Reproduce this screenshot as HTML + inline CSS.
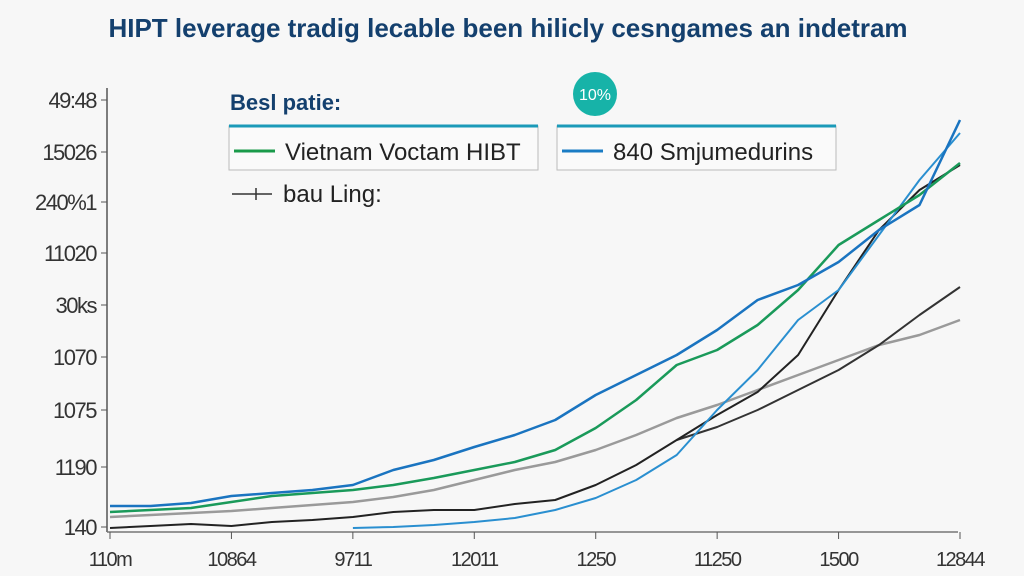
<!DOCTYPE html>
<html><head><meta charset="utf-8"><style>
body{margin:0;background:#f7f7f7;font-family:"Liberation Sans",sans-serif}
svg{display:block}
</style></head><body>
<svg width="1024" height="576" viewBox="0 0 1024 576">
<rect width="1024" height="576" fill="#f7f7f7"/>
<text x="508" y="37" text-anchor="middle" font-size="26" font-weight="bold" fill="#14406e">HIPT leverage tradig lecable been hilicly cesngames an indetram</text>
<g id="axes"></g>
<g id="series"></g>
<text x="230" y="110" font-size="22" font-weight="bold" fill="#14406e">Besl patie:</text>
<circle cx="595" cy="94" r="22" fill="#17b3a8"/>
<text x="595" y="100" text-anchor="middle" font-size="16" fill="#fff">10%</text>
<g>
<rect x="229" y="126" width="309" height="44" fill="#fafafa" stroke="#bbb" stroke-width="1"/>
<line x1="229" y1="126" x2="538" y2="126" stroke="#1b9ab8" stroke-width="3"/>
<line x1="234" y1="151" x2="275" y2="151" stroke="#1a9a4a" stroke-width="3"/>
<text x="285" y="160" font-size="24" fill="#222">Vietnam Voctam HIBT</text></g>
<g>
<rect x="557" y="126" width="279" height="44" fill="#fafafa" stroke="#bbb" stroke-width="1"/>
<line x1="557" y1="126" x2="836" y2="126" stroke="#1b9ab8" stroke-width="3"/>
<line x1="562" y1="151" x2="603" y2="151" stroke="#1a7cc4" stroke-width="3"/>
<text x="613" y="160" font-size="24" fill="#222">840 Smjumedurins</text></g>
<g>
<line x1="232" y1="194" x2="272" y2="194" stroke="#333" stroke-width="1.5"/>
<line x1="256" y1="188" x2="256" y2="200" stroke="#333" stroke-width="1.5"/>
<text x="283" y="202" font-size="24" fill="#222">bau Ling:</text></g>
</svg>
<script>
const categories=[0,1,2,3,4,5,6,7,8,9,10,11,12,13,14,15,16,17,18,19,20,21];
const blueDark=[26,26,29,36,39,42,47,62,72,85,97,112,137,157,177,202,232,247,270,302,327,412];
const green=[20,22,24,30,36,39,42,47,54,62,70,82,104,132,167,182,207,242,287,312,337,369];
const gray=[15,17,19,21,24,27,30,35,42,52,62,70,82,97,114,127,142,157,172,187,197,212];
const black1=[4,6,8,6,10,12,15,20,22,22,28,32,47,67,92,117,140,177,242,302,342,367];
const lightBlue=[null,null,null,null,null,null,4,5,7,10,14,22,34,52,77,122,162,212,242,297,352,399];
const black2=[null,null,null,null,null,null,null,null,null,null,null,null,null,null,92,105,122,142,162,187,217,245];
const yTicks=[5,65,122,175,227,279,330,380,432];
const yLabels=["140","1190","1075","1070","30ks","11020","240%1","15026","49:48"];
const xTicks=[0,3,6,9,12,15,18,21];
const xLabels=["110m","10864","9711","12011","1250","11250","1500","12844"];
const NS="http://www.w3.org/2000/svg";
const x=i=>110+i*(850/21), y=v=>532-v;
const axes=document.getElementById('axes'), ser=document.getElementById('series');
function mk(t,a,p){const e=document.createElementNS(NS,t);for(const k in a)e.setAttribute(k,a[k]);p.appendChild(e);return e;}
const ya=mk('line',{x1:107,y1:88,x2:107,y2:532,stroke:'#555','stroke-width':1.5},axes);


const xa=mk('line',{x1:107,y1:532,x2:958,y2:532,stroke:'#777','stroke-width':1.5},axes);


yTicks.forEach((v,i)=>{mk('line',{x1:101,y1:y(v),x2:107,y2:y(v),stroke:'#555'},axes);
const t=mk('text',{x:96,y:y(v)+8,'text-anchor':'end','font-size':22,fill:'#333','letter-spacing':'-1.5'},axes);t.textContent=yLabels[i];

});
xTicks.forEach((c,i)=>{mk('line',{x1:x(c),y1:532,x2:x(c),y2:539,stroke:'#555'},axes);
const t=mk('text',{x:x(c),y:566,'text-anchor':'middle','font-size':20,fill:'#333','letter-spacing':'-1.5'},axes);t.textContent=xLabels[i];

});
function line(data,color,w,name){let d='';data.forEach((v,i)=>{if(v==null)return;d+=(d?'L':'M')+x(categories[i]).toFixed(1)+','+y(v);});
const p=mk('path',{d:d,fill:'none',stroke:color,'stroke-width':w,'stroke-linejoin':'round'},ser);

}
line(gray,'#9a9a9a',2.5,'series-gray');
line(black2,'#333',2,'series-black-2');
line(black1,'#222',2,'series-black-1');
line(lightBlue,'#2a8fd0',2,'series-light-blue');
line(green,'#1a9a5a',2.5,'series-green');
line(blueDark,'#1a74c0',2.5,'series-blue');
</script>
</body></html>
